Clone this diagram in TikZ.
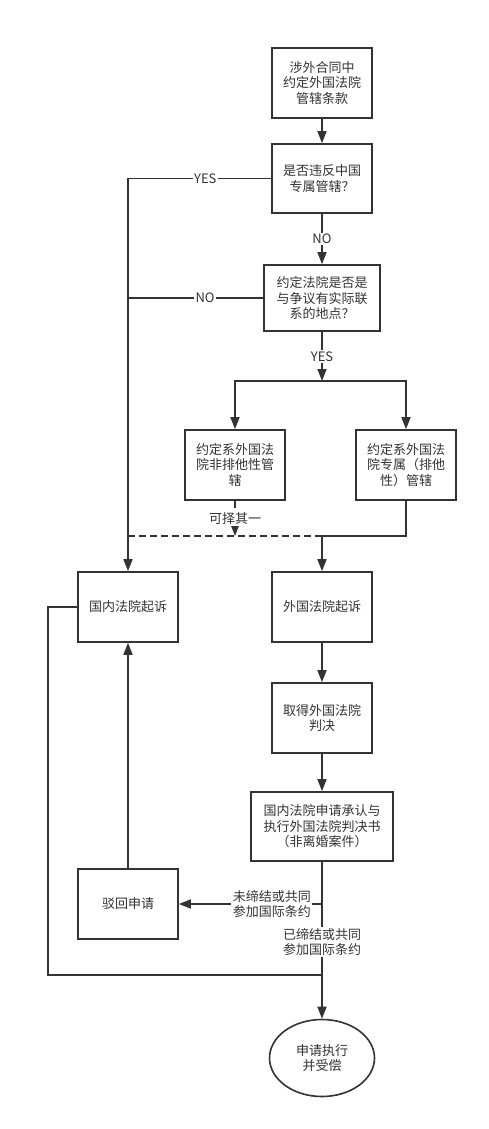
\documentclass[tikz,border=0pt]{standalone}
\usepackage{fontspec}
\setmainfont{Noto Sans CJK SC}
\usepackage{xcolor}
\usetikzlibrary{arrows.meta,positioning,calc,shapes.geometric}
\definecolor{ink}{HTML}{333333}

\begin{document}
\begin{tikzpicture}[
  x=1pt,y=-1pt,
  bx/.style={draw=ink,line width=1.6pt,text=ink,align=center,
    minimum width=100pt,minimum height=70pt,inner sep=2pt,
    font=\fontsize{13}{15.5}\selectfont},
  el/.style={bx,ellipse,minimum width=105pt,minimum height=77pt},
  ln/.style={draw=ink,line width=1.6pt},
  ar/.style={ln,-{Triangle[length=12pt,width=9pt]}},
  lb/.style={fill=white,text=ink,align=center,inner sep=1.5pt,
    font=\fontsize{13}{15.5}\selectfont}
]
\path[use as bounding box,fill=white] (0,0) rectangle (488,1129);
%--- main column ---
\node[bx] (clause) at (322,83){涉外合同中\\约定外国法院\\管辖条款};
\node[bx,minimum height=69pt] (excl1) at (322,178.5){是否违反中国\\专属管辖？};
\node[bx,minimum width=116pt,minimum height=66pt] (tie) at (322,298){约定法院是否是\\与争议有实际联\\系的地点？};
\coordinate (split) at (322,381);
\node[bx] (nonex) at (235,465){约定系外国法\\院非排他性管\\辖};
\node[bx] (exonly) at (406,465){约定系外国法\\院专属（排他\\性）管辖};
\coordinate (join) at (322,536);
\node[bx] (home) at (128,607){国内法院起诉};
\node[bx] (abroad) at (322,607){外国法院起诉};
\node[bx] (judg) at (322,718){取得外国法院\\判决};
\node[bx,minimum width=142pt,minimum height=69pt] (recog) at (322,826.5){国内法院申请承认与\\执行外国法院判决书\\（非离婚案件）};
\node[bx] (reject) at (128,904){驳回申请};
\node[el] (exec) at (322,1058){申请执行\\并受偿};
\coordinate (loop) at (48,975);
%--- connectors ---
\draw[ar](clause)--(excl1);
\draw[ar](excl1)--node[lb]{NO}(tie);
\draw[ar](excl1.west)--node[lb,pos=0.46]{YES}(excl1.west -| home)--(home.north);
\draw[ln](tie.west)--node[lb,pos=0.43]{NO}(tie.west -| home);
\draw[ar](tie)--node[lb]{YES}(split);
\draw[ar](split)-|(nonex.north);
\draw[ar](split)-|(exonly.north);
\draw[ln](exonly.south)|-(join);
\draw[ln,dashed,dash pattern=on 7pt off 4pt](join -| home)--(join);
\draw[ar,dashed,dash pattern=on 7pt off 4pt](nonex.south)--node[lb,pos=0.5]{可择其一}(nonex.south |- join);
\draw[ar](join)--(abroad.north);
\draw[ar](abroad)--(judg);
\draw[ar](judg)--(recog);
\draw[ar](recog.south |- reject)--node[lb,pos=0.35]{未缔结或共同\\参加国际条约}(reject.east);
\draw[ar](recog.south)--node[lb,pos=0.51]{已缔结或共同\\参加国际条约}(exec.north);
\draw[ar](reject)--(home);
\draw[ln](home.west)-|(loop)--(loop -| exec.north);
\end{tikzpicture}
\end{document}
